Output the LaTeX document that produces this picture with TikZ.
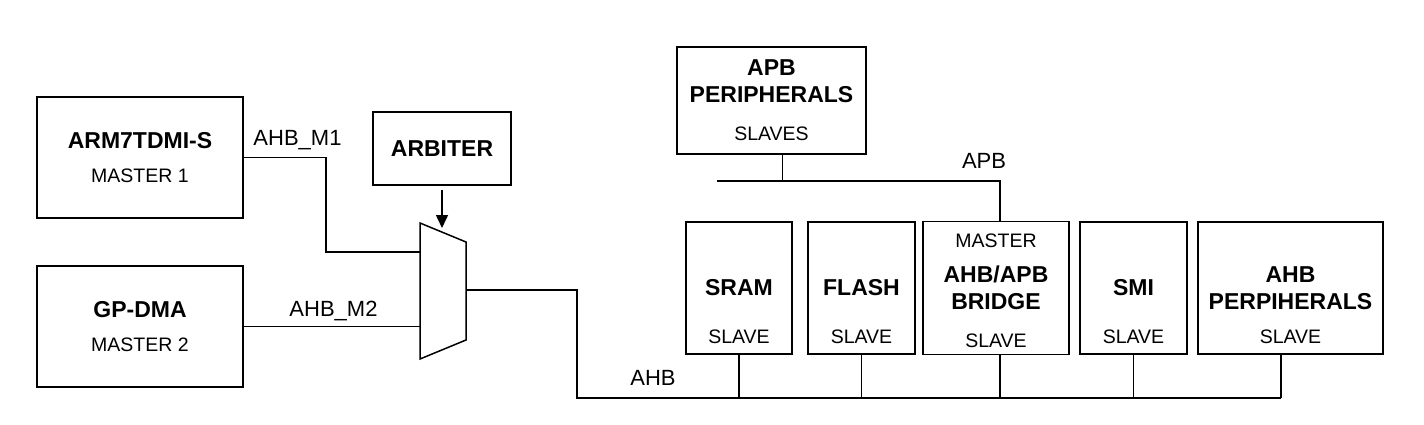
\documentclass[tikz,border=0pt]{standalone}
\usepackage{fontspec}
\setsansfont{Liberation Sans}
\usetikzlibrary{arrows.meta,positioning}
\newcommand{\rolefont}{\mdseries\fontsize{19.5pt}{27pt}\selectfont}

\begin{document}
\begin{tikzpicture}[
    x=1pt,y=-1pt,
    font=\sffamily,
    box/.style={draw,line width=1.5pt,inner sep=0pt,outer sep=0pt,align=center,
                font=\sffamily\bfseries\fontsize{23pt}{27pt}\selectfont},
    role/.style={inner sep=0pt,font=\sffamily\rolefont},
    buslbl/.style={inner sep=0pt,anchor=base,font=\sffamily\fontsize{22pt}{26pt}\selectfont},
    >={Triangle[length=13pt,width=12pt]},
    wire/.style={line width=1.5pt},
    bus/.style={line width=1.8pt},
    arr/.style={->,line width=1.5pt}
  ]
  \useasboundingbox (0,0) rectangle (1424,424);

  % masters and arbiter
  \node[box,minimum width=206pt,minimum height=121pt] (arm) at (140,157.5)
       {ARM7TDMI-S\\[6.5pt]\rolefont MASTER 1};
  \node[box,minimum width=206pt,minimum height=121pt,below=48pt of arm] (gpdma)
       {GP-DMA\\[7pt]\rolefont MASTER 2};
  \node[box,minimum width=138pt,minimum height=73pt] (arbiter) at (442,148.5) {ARBITER};

  % the multiplexer
  \draw[wire] (420,223) -- (466,242) -- (466,340) -- (420,359) -- cycle;
  \coordinate (muxin1) at (420,252);
  \coordinate (muxin2) at (420,326.5);
  \coordinate (muxout) at (466,290);
  \coordinate (muxsel) at (442,228);

  \draw[wire] (arm.east) -- ++(83,0) |- (muxin1);
  \draw[wire] (gpdma.east) -- (muxin2);
  \draw[arr] ([yshift=-5pt]arbiter.south) -- (muxsel);
  \node[buslbl] (m1lbl) at (297.5,145) {AHB\_M1};
  \node[buslbl] (m2lbl) at (333.5,316) {AHB\_M2};

  % AHB bus
  \coordinate (ahbL) at (577,398);
  \coordinate (ahbR) at (1281,398);
  \draw[bus] (muxout) -| (ahbL) -- (ahbR);
  \node[buslbl] (ahblbl) at (653,385) {AHB};

  % slaves on the AHB
  \node[box,minimum width=106pt,minimum height=132pt,
        label={[role,anchor=base,yshift=11pt]south:SLAVE}] (sram) at (739,288) {SRAM};
  \node[box,minimum width=107pt,minimum height=132pt,right=16pt of sram,
        label={[role,anchor=base,yshift=11pt]south:SLAVE}] (flash) {FLASH};
  \node[box,minimum width=146pt,minimum height=133pt,right=8pt of flash,
        label={[role,anchor=base,yshift=-26pt]north:MASTER},
        label={[role,anchor=base,yshift=7pt]south:SLAVE}] (bridge) {AHB/APB\\BRIDGE};
  \node[box,minimum width=107pt,minimum height=132pt,right=11pt of bridge,
        label={[role,anchor=base,yshift=11pt]south:SLAVE}] (smi) {SMI};
  \node[box,minimum width=185pt,minimum height=132pt,right=11pt of smi,
        label={[role,anchor=base,yshift=11pt]south:SLAVE}] (ahbp) {AHB\\PERPIHERALS};

  \draw[wire] (sram.south) -- (sram.south |- ahbL);
  \draw[wire] (flash.south) -- (flash.south |- ahbL);
  \draw[wire] (smi.south) -- (smi.south |- ahbL);
  \draw[wire] (ahbR |- ahbp.south) -- (ahbR);

  % APB side
  \node[box,minimum width=189pt,minimum height=107pt] (apb) at (771.5,100.5)
       {APB\\PERIPHERALS\\[11pt]\rolefont SLAVES};
  \coordinate (apbL) at (717,181);
  \coordinate (apbR) at (1000,181);
  \draw[bus] (apbL) -- (apbR) -- (apbR |- bridge.north);
  \draw[wire] ([xshift=11pt]apb.south) -- ([xshift=11pt]apb.south |- apbL);
  \draw[wire] (apbR |- bridge.south) -- (apbR |- ahbL);
  \node[buslbl] (apblbl) at (984,168) {APB};
\end{tikzpicture}
\end{document}
